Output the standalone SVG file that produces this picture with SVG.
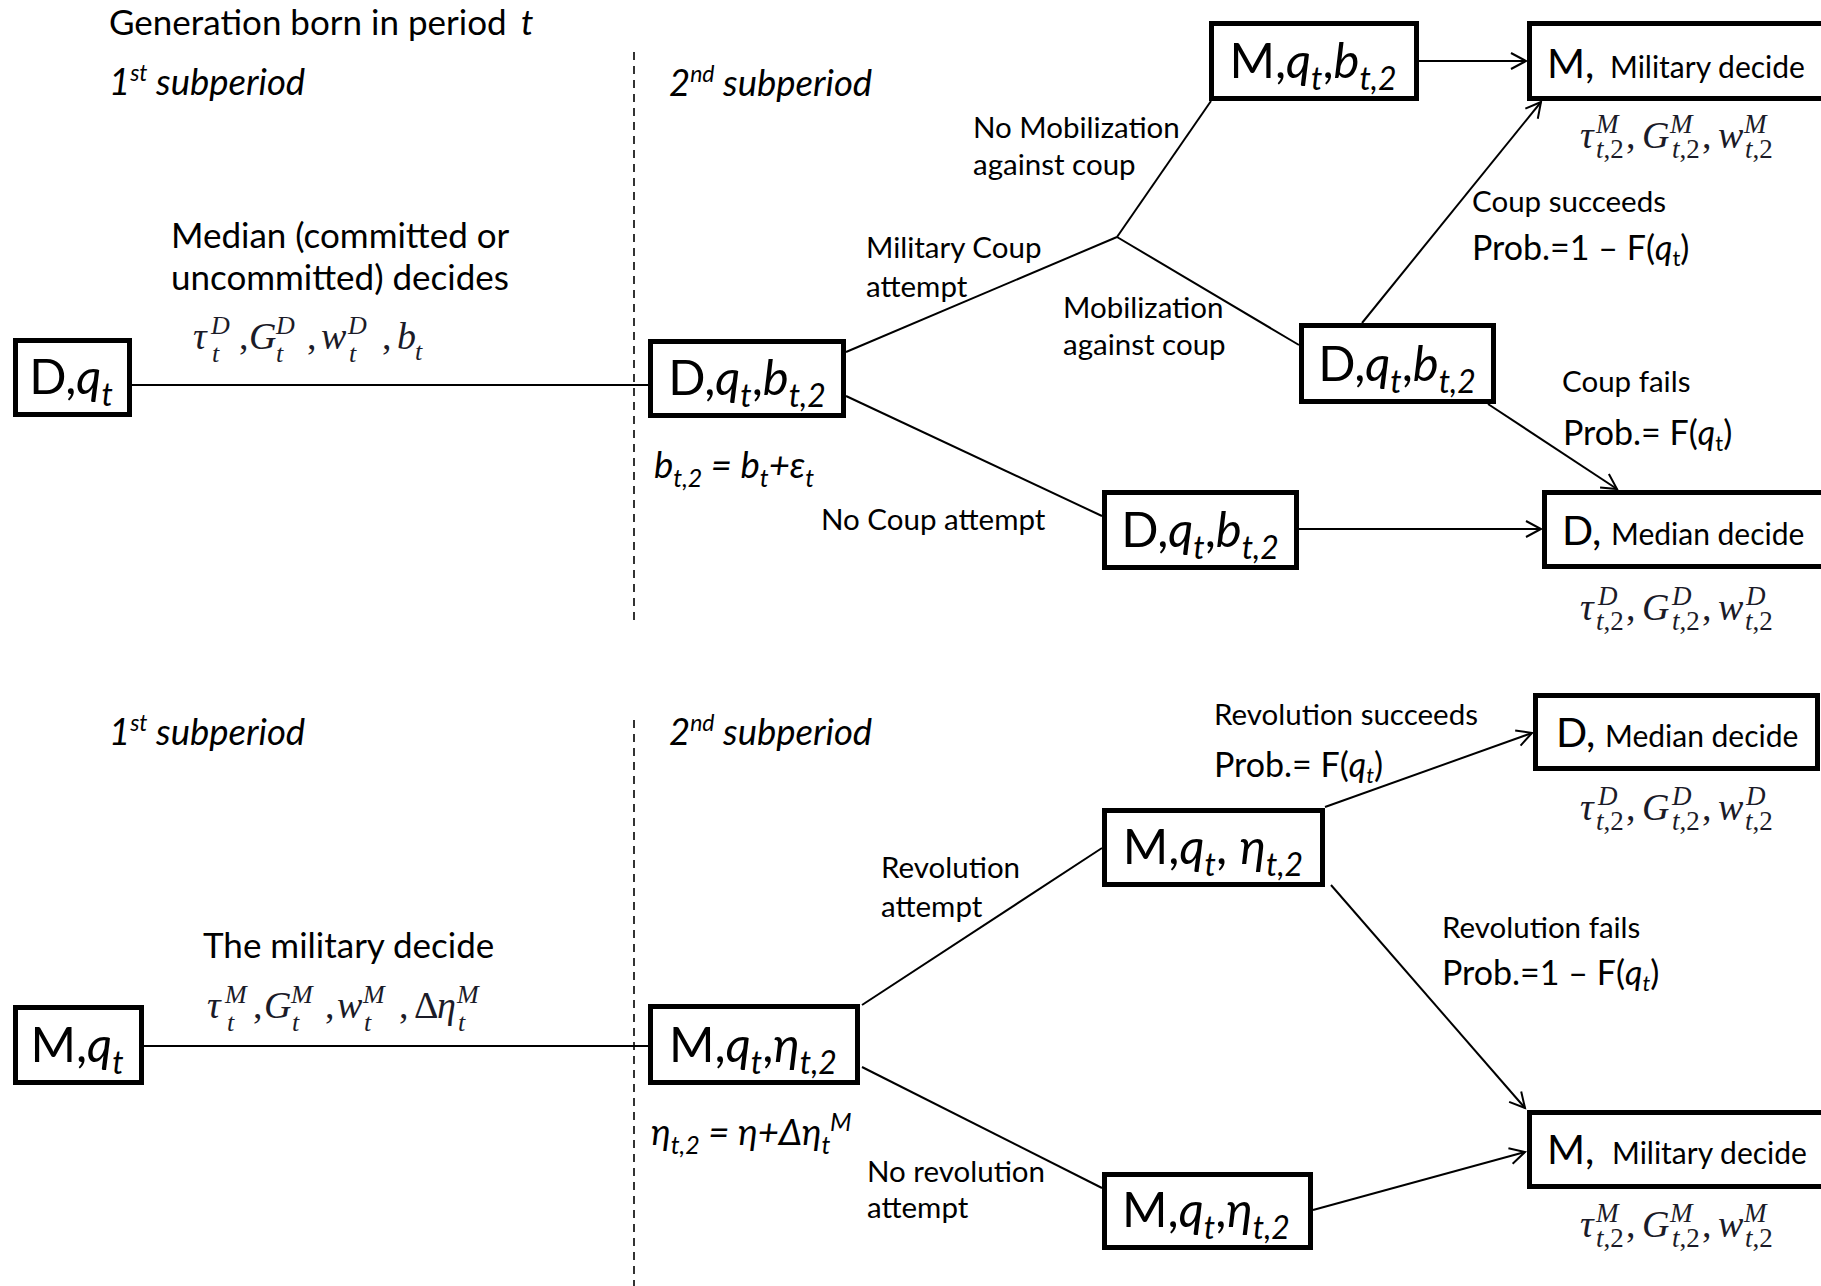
<svg xmlns="http://www.w3.org/2000/svg" xmlns:xlink="http://www.w3.org/1999/xlink" width="1821" height="1286" viewBox="0 0 1821 1286">
<style>
.box{fill:#fff;stroke:#000;stroke-width:5}
.ln{stroke:#000;stroke-width:2;fill:none}
.arr{marker-end:url(#ah)}
.dash{stroke:#000;stroke-width:1.6;stroke-dasharray:8 6;fill:none}
text{font-family:Lato,"Liberation Sans",sans-serif;fill:#000}
.t1{font-size:35px}
.sp{font-size:36.5px;font-style:italic}
.lb{font-size:29.5px}
.pr{font-size:34px}
.it{font-style:italic}
.bx{font-size:49px}
.sb{font-size:32px}
.big{font-size:41px}
.med{font-size:30px}
.m{font-family:"Liberation Serif","DejaVu Serif",serif;font-style:italic;font-size:38px;fill:#1b1b28}
.ms{font-family:"Liberation Serif","DejaVu Serif",serif;font-style:italic;font-size:26px;fill:#1b1b28}
.m2{font-family:"Liberation Serif","DejaVu Serif",serif;font-style:italic;font-size:38px;fill:#1b1b28}
.ms2{font-family:"Liberation Serif","DejaVu Serif",serif;font-style:italic;font-size:27px;fill:#1b1b28}
.up{font-style:normal}
</style>
<defs>
<marker id="ah" markerUnits="userSpaceOnUse" markerWidth="20" markerHeight="20" refX="0" refY="0" orient="auto" style="overflow:visible">
<path d="M-15,-8 L0,0 L-15,8" fill="none" stroke="#000" stroke-width="2"/>
</marker>
<g id="mathM2">
<text class="m2" x="0" y="0">τ</text><text class="ms2" x="16" y="-15">M</text><text class="ms2" x="16" y="10">t<tspan class="up">,2</tspan></text><text class="m2 up" x="46" y="0">,</text>
<text class="m2" x="62" y="0">G</text><text class="ms2" x="90" y="-15">M</text><text class="ms2" x="92" y="10">t<tspan class="up">,2</tspan></text><text class="m2 up" x="122" y="0">,</text>
<text class="m2" x="138" y="0">w</text><text class="ms2" x="164" y="-15">M</text><text class="ms2" x="165" y="10">t<tspan class="up">,2</tspan></text>
</g>
<g id="mathD2">
<text class="m2" x="0" y="0">τ</text><text class="ms2" x="18" y="-15">D</text><text class="ms2" x="16" y="10">t<tspan class="up">,2</tspan></text><text class="m2 up" x="46" y="0">,</text>
<text class="m2" x="62" y="0">G</text><text class="ms2" x="92" y="-15">D</text><text class="ms2" x="92" y="10">t<tspan class="up">,2</tspan></text><text class="m2 up" x="122" y="0">,</text>
<text class="m2" x="138" y="0">w</text><text class="ms2" x="166" y="-15">D</text><text class="ms2" x="165" y="10">t<tspan class="up">,2</tspan></text>
</g>
</defs>
<rect width="1821" height="1286" fill="#fff"/>

<g id="labels">
<text class="t1" x="109" y="35">Generation born in period <tspan class="it" x="521">t</tspan></text>
<text class="sp" x="109" y="95">1<tspan font-size="23" dy="-14">st</tspan><tspan dy="14"> subperiod</tspan></text>
<text class="sp" x="669" y="96">2<tspan font-size="23" dy="-14">nd</tspan><tspan dy="14"> subperiod</tspan></text>
<text class="t1" x="171" y="248">Median (committed or</text>
<text class="t1" x="171" y="290">uncommitted) decides</text>
<text class="sp" font-size="35" x="654" y="478">b<tspan font-size="25" dy="9">t,2</tspan><tspan dy="-9"> = b</tspan><tspan font-size="25" dy="9">t</tspan><tspan dy="-9">+ε</tspan><tspan font-size="25" dy="9">t</tspan></text>
<text class="lb" x="866" y="258">Military Coup</text>
<text class="lb" x="866" y="297">attempt</text>
<text class="lb" x="973" y="138">No Mobilization</text>
<text class="lb" x="973" y="175">against coup</text>
<text class="lb" x="1063" y="318">Mobilization</text>
<text class="lb" x="1063" y="355">against coup</text>
<text class="lb" x="821" y="530">No Coup attempt</text>
<text class="lb" x="1472" y="212">Coup succeeds</text>
<text class="pr" x="1472" y="260">Prob.=1 – F(<tspan class="it">q</tspan><tspan font-size="22" dy="6">t</tspan><tspan dy="-6">)</tspan></text>
<text class="lb" x="1562" y="392">Coup fails</text>
<text class="pr" x="1563" y="445">Prob.= F(<tspan class="it">q</tspan><tspan font-size="22" dy="6">t</tspan><tspan dy="-6">)</tspan></text>

<text class="sp" x="109" y="745">1<tspan font-size="23" dy="-14">st</tspan><tspan dy="14"> subperiod</tspan></text>
<text class="sp" x="669" y="745">2<tspan font-size="23" dy="-14">nd</tspan><tspan dy="14"> subperiod</tspan></text>
<text class="lb" x="1214" y="725">Revolution succeeds</text>
<text class="pr" x="1214" y="777">Prob.= F(<tspan class="it">q</tspan><tspan class="it" font-size="22" dy="6">t</tspan><tspan dy="-6">)</tspan></text>
<text class="lb" x="881" y="878">Revolution</text>
<text class="lb" x="881" y="917">attempt</text>
<text class="t1" x="203" y="958">The military decide</text>
<text class="sp" font-size="35" x="651" y="1145">η<tspan font-size="25" dy="9">t,2</tspan><tspan dy="-9"> = η+Δη</tspan><tspan font-size="25" dy="9">t</tspan><tspan font-size="25" dy="-23">M</tspan></text>
<text class="lb" x="867" y="1182">No revolution</text>
<text class="lb" x="867" y="1218">attempt</text>
<text class="lb" x="1442" y="938">Revolution fails</text>
<text class="pr" x="1442" y="985">Prob.=1 – F(<tspan class="it">q</tspan><tspan class="it" font-size="22" dy="6">t</tspan><tspan dy="-6">)</tspan></text>
</g>

<g id="math">
<g id="math-top-left">
<text class="m" x="193" y="349">τ</text><text class="ms" x="211" y="334">D</text><text class="ms" x="212" y="362">t</text><text class="m up" x="239" y="349">,</text>
<text class="m" x="249" y="349">G</text><text class="ms" x="276" y="334">D</text><text class="ms" x="276" y="362">t</text><text class="m up" x="307" y="349">,</text>
<text class="m" x="321" y="349">w</text><text class="ms" x="348" y="334">D</text><text class="ms" x="349" y="362">t</text><text class="m up" x="382" y="349">,</text>
<text class="m" x="397" y="349">b</text><text class="ms" x="415" y="360">t</text>
</g>
<g id="math-bottom-left">
<text class="m" x="207" y="1018">τ</text><text class="ms" x="225" y="1003">M</text><text class="ms" x="227" y="1031">t</text><text class="m up" x="253" y="1018">,</text>
<text class="m" x="264" y="1018">G</text><text class="ms" x="291" y="1003">M</text><text class="ms" x="292" y="1031">t</text><text class="m up" x="325" y="1018">,</text>
<text class="m" x="337" y="1018">w</text><text class="ms" x="363" y="1003">M</text><text class="ms" x="364" y="1031">t</text><text class="m up" x="399" y="1018">,</text>
<text class="m up" x="414" y="1018">Δ</text><text class="m" x="437" y="1018">η</text><text class="ms" x="457" y="1003">M</text><text class="ms" x="458" y="1031">t</text>
</g>
<use xlink:href="#mathM2" x="1580" y="148"/>
<use xlink:href="#mathD2" x="1580" y="620"/>
<use xlink:href="#mathD2" x="1580" y="820"/>
<use xlink:href="#mathM2" x="1580" y="1237"/>
</g>

<g id="connectors">
<line class="dash" x1="634" y1="52" x2="634" y2="620"/>
<line class="dash" x1="634" y1="720" x2="634" y2="1286"/>
<line class="ln" x1="132" y1="385" x2="648" y2="385"/>
<line class="ln" x1="846" y1="352" x2="1117" y2="237"/>
<line class="ln" x1="1117" y1="237" x2="1211" y2="101"/>
<line class="ln" x1="1117" y1="237" x2="1299" y2="345"/>
<line class="ln" x1="846" y1="396" x2="1102" y2="516"/>
<line class="ln arr" x1="1419" y1="61" x2="1526" y2="61"/>
<line class="ln arr" x1="1362" y1="323" x2="1541" y2="102"/>
<line class="ln arr" x1="1488" y1="404" x2="1617" y2="489"/>
<line class="ln arr" x1="1299" y1="529" x2="1541" y2="529"/>
<line class="ln" x1="144" y1="1046" x2="648" y2="1046"/>
<line class="ln" x1="862" y1="1005" x2="1102" y2="848"/>
<line class="ln" x1="862" y1="1067" x2="1102" y2="1188"/>
<line class="ln arr" x1="1325" y1="807" x2="1532" y2="733"/>
<line class="ln arr" x1="1331" y1="885" x2="1525" y2="1108"/>
<line class="ln arr" x1="1313" y1="1210" x2="1525" y2="1152"/>
</g>

<g id="n-dq">
<rect class="box" x="15.5" y="340.5" width="114" height="74"/>
<text class="bx" x="71" y="394" text-anchor="middle">D,<tspan class="it">q</tspan><tspan class="it sb" dy="12">t</tspan></text>
</g>
<g id="n-dqb-1">
<rect class="box" x="650.5" y="341.5" width="193" height="74"/>
<text class="bx" x="747" y="395" text-anchor="middle">D,<tspan class="it">q</tspan><tspan class="it sb" dy="12">t</tspan><tspan dy="-12">,</tspan><tspan class="it">b</tspan><tspan class="it sb" dy="12">t,2</tspan></text>
</g>
<g id="n-mqb">
<rect class="box" x="1211.5" y="23.5" width="205" height="75"/>
<text class="bx" x="1313" y="78" text-anchor="middle">M,<tspan class="it">q</tspan><tspan class="it sb" dy="12">t</tspan><tspan dy="-12">,</tspan><tspan class="it">b</tspan><tspan class="it sb" dy="12">t,2</tspan></text>
</g>
<g id="n-m-top">
<rect class="box" x="1529.5" y="23.5" width="300" height="75"/>
<text x="1547" y="78"><tspan class="big">M,</tspan><tspan class="med" x="1610">Military decide</tspan></text>
</g>
<g id="n-dqb-2">
<rect class="box" x="1301.5" y="325.5" width="192" height="76"/>
<text class="bx" x="1397" y="381" text-anchor="middle">D,<tspan class="it">q</tspan><tspan class="it sb" dy="12">t</tspan><tspan dy="-12">,</tspan><tspan class="it">b</tspan><tspan class="it sb" dy="12">t,2</tspan></text>
</g>
<g id="n-dqb-3">
<rect class="box" x="1104.5" y="492.5" width="192" height="75"/>
<text class="bx" x="1200" y="547" text-anchor="middle">D,<tspan class="it">q</tspan><tspan class="it sb" dy="12">t</tspan><tspan dy="-12">,</tspan><tspan class="it">b</tspan><tspan class="it sb" dy="12">t,2</tspan></text>
</g>
<g id="n-d-top">
<rect class="box" x="1544.5" y="492.5" width="290" height="74"/>
<text x="1562" y="545"><tspan class="big">D,</tspan><tspan class="med" x="1611">Median decide</tspan></text>
</g>
<g id="n-mq">
<rect class="box" x="15.5" y="1007.5" width="126" height="75"/>
<text class="bx" x="77" y="1062" text-anchor="middle">M,<tspan class="it">q</tspan><tspan class="it sb" dy="12">t</tspan></text>
</g>
<g id="n-mqe-1">
<rect class="box" x="650.5" y="1006.5" width="207" height="76"/>
<text class="bx" x="753" y="1062" text-anchor="middle">M,<tspan class="it">q</tspan><tspan class="it sb" dy="12">t</tspan><tspan dy="-12">,</tspan><tspan class="it">η</tspan><tspan class="it sb" dy="12">t,2</tspan></text>
</g>
<g id="n-mqe-2">
<rect class="box" x="1104.5" y="810.5" width="218" height="74"/>
<text class="bx" x="1213" y="864" text-anchor="middle">M,<tspan class="it">q</tspan><tspan class="it sb" dy="12">t</tspan><tspan dy="-12">, </tspan><tspan class="it">η</tspan><tspan class="it sb" dy="12">t,2</tspan></text>
</g>
<g id="n-d-bot">
<rect class="box" x="1535.5" y="695.5" width="282" height="73"/>
<text x="1556" y="747"><tspan class="big">D,</tspan><tspan class="med" x="1605">Median decide</tspan></text>
</g>
<g id="n-mqe-3">
<rect class="box" x="1104.5" y="1174.5" width="206" height="73"/>
<text class="bx" x="1206" y="1227" text-anchor="middle">M,<tspan class="it">q</tspan><tspan class="it sb" dy="12">t</tspan><tspan dy="-12">,</tspan><tspan class="it">η</tspan><tspan class="it sb" dy="12">t,2</tspan></text>
</g>
<g id="n-m-bot">
<rect class="box" x="1529.5" y="1112.5" width="300" height="74"/>
<text x="1547" y="1164"><tspan class="big">M,</tspan><tspan class="med" x="1612">Military decide</tspan></text>
</g>
</svg>
